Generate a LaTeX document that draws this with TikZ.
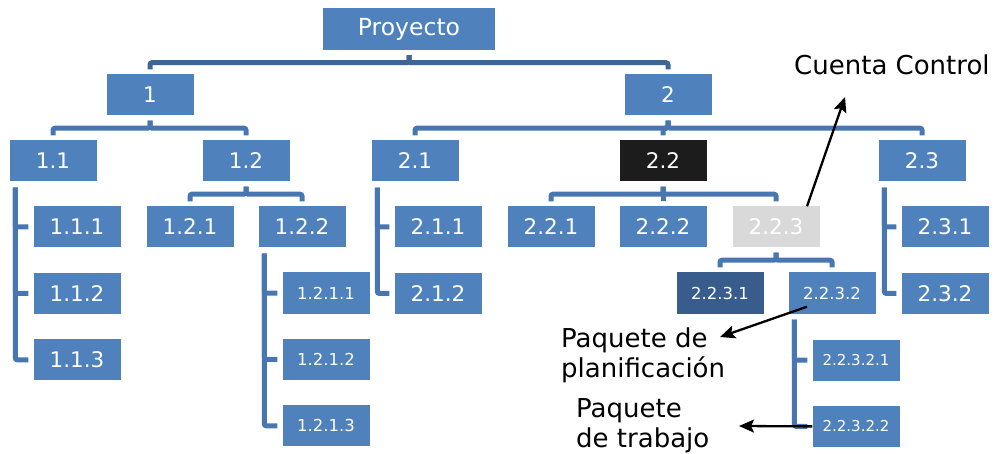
\documentclass[tikz,border=0pt]{standalone}
\usepackage{fontspec}
\setmainfont{DejaVu Sans}
\usepackage{xcolor}
\usepackage{tikz}
\usetikzlibrary{arrows.meta, positioning}
\definecolor{boxblue}{RGB}{79, 129, 189}
\definecolor{darkbox}{RGB}{56, 92, 140}
\definecolor{greybox}{RGB}{217, 217, 217}
\definecolor{blackbox}{RGB}{28, 28, 28}
\definecolor{lineblue}{RGB}{72, 118, 176}
\definecolor{topline}{RGB}{62, 101, 150}
\tikzset{
    wbs/.style = {rectangle, fill=boxblue, text=white, minimum width=87pt, minimum height=41pt, inner sep=0pt, font=\fontsize{21.5}{24}\selectfont},
    wbssmall/.style = {wbs, font=\fontsize{16.5}{19}\selectfont},
    wbstiny/.style = {wbs, font=\fontsize{15}{18}\selectfont},
    link/.style = {line width=5pt, draw=lineblue, rounded corners=2pt, shorten <=5pt, shorten >=5pt},
    arrow/.style = {line width=2.3pt, -{Stealth[length=15pt, width=13pt, inset=3pt]}},
    note/.style = {font=\fontsize{26}{30}\selectfont, align=left, inner sep=0pt}
}

\begin{document}
\begin{tikzpicture}[x=1pt, y=-1pt, node distance=25pt and 25pt]
\useasboundingbox (0,0) rectangle (998,454);

\node (p) [wbs, minimum width=172pt, minimum height=42pt, font=\fontsize{23.5}{26}\selectfont] at (409,29) {Proyecto};
\node (n1) [wbs] at (150,95) {1};
\node (n2) [wbs] at (668,95) {2};

\node (n11) [wbs] at (53,161) {1.1};
\node (n12) [wbs] at (246,161) {1.2};
\node (n21) [wbs] at (415,161) {2.1};
\node (n22) [wbs, fill=blackbox] at (663,161) {2.2};
\node (n23) [wbs] at (922,161) {2.3};

\node (n111) [wbs] at (77,227) {1.1.1};
\node (n112) [wbs, below=of n111] {1.1.2};
\node (n113) [wbs, below=of n112] {1.1.3};
\node (n121) [wbs] at (190,227) {1.2.1};
\node (n122) [wbs] at (302,227) {1.2.2};
\node (n1211) [wbssmall] at (326,293) {1.2.1.1};
\node (n1212) [wbssmall, below=of n1211] {1.2.1.2};
\node (n1213) [wbssmall, below=of n1212] {1.2.1.3};
\node (n211) [wbs] at (438,227) {2.1.1};
\node (n212) [wbs, below=of n211] {2.1.2};
\node (n221) [wbs] at (551,227) {2.2.1};
\node (n222) [wbs] at (663,227) {2.2.2};
\node (n223) [wbs, fill=greybox] at (776,227) {2.2.3};
\node (n231) [wbs] at (945,227) {2.3.1};
\node (n232) [wbs, below=of n231] {2.3.2};
\node (n2231) [wbssmall, fill=darkbox] at (720,293) {2.2.3.1};
\node (n2232) [wbssmall] at (832,293) {2.2.3.2};
\node (n22321) [wbstiny] at (856,360) {2.2.3.2.1};
\node (n22322) [wbstiny, below=of n22321] {2.2.3.2.2};

% labels
\node (cc) [note, anchor=base west] at (794,75) {Cuenta Control};
\node (pp) [note, anchor=north west] at (561,328) {Paquete de\\planificación};
\node (pw) [note, anchor=north west] at (576,398) {Paquete\\de trabajo};
\coordinate (cctip) at (845,97);
\coordinate (pptip) at (720,337);
\coordinate (pwtip) at (739,426);

% brackets
\foreach \a/\b in {p/n1, p/n2}
    \draw [link, draw=topline] (\a.south) -- ++(0,12.5) -| (\b.north);
\foreach \a/\b in {n1/n11, n1/n12, n2/n21, n2/n22, n2/n23, n12/n121, n12/n122, n22/n221, n22/n222, n22/n223, n223/n2231, n223/n2232}
    \draw [link] (\a.south) -- ++(0,12.5) -| (\b.north);

% side lists
\foreach \a/\b in {n11/n111, n11/n112, n11/n113, n122/n1211, n122/n1212, n122/n1213, n21/n211, n21/n212, n23/n231, n23/n232, n2232/n22321, n2232/n22322}
    \draw [link, shorten <=6pt] ([xshift=6pt]\a.south west) |- (\b.west);

\draw [arrow] ([xshift=31pt]n223.north) -- (cctip);
\draw [arrow] ([xshift=-25pt, yshift=7pt]n2232.south) -- (pptip);
\draw [arrow] (n22322.west) -- (pwtip);
\end{tikzpicture}
\end{document}
